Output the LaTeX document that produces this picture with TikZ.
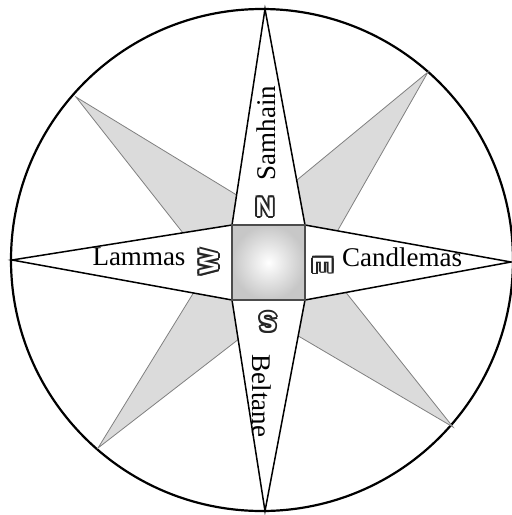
\documentclass[tikz,border=0pt]{standalone}
\usepackage{fontspec}
\setmainfont{Liberation Serif}
\newfontfamily\badgefont{Liberation Sans}
\usetikzlibrary{calc}
\tikzset{
  spike/.style={fill=black!14, draw=black!50, line width=0.8pt, line join=miter},
  cardinal/.style={fill=white, draw=black, line width=1.5pt, line join=miter},
  hub/.style={draw=black!70, line width=1.5pt, inner color=white, outer color=black!22},
  label/.style={inner sep=0pt, font=\fontsize{27}{27}\selectfont},
  badgetext/.style={inner sep=0pt, font=\fontsize{27}{27}\badgefont\bfseries\selectfont}
}
\newcommand\compassbadge[4]{%
  \foreach \dx/\dy [count=\k] in {1.8/0,-1.8/0,0/1.8,0/-1.8,1.3/1.3,-1.3/1.3,1.3/-1.3,-1.3/-1.3}{
    \node[badgetext, text=black!85, rotate=#3] (#1\k) at ($(#2)+(\dx,\dy)$) {#4};}
  \node[badgetext, text=white, rotate=#3] (#1) at (#2) {#4};}
\begin{document}
\begin{tikzpicture}[x=1pt,y=-1pt]
\useasboundingbox (0,0) rectangle (512,515);
\fill[white] (0,0) rectangle (512,515);
% outer circle
\coordinate (O) at (262,260);
\draw[line width=2.2pt] (O) circle[radius=251pt];
% centre and square corners
\coordinate (C) at (268,262);
\coordinate (q1) at (232,225);
\coordinate (q2) at (305,225);
\coordinate (q3) at (305,300);
\coordinate (q4) at (232,300);
% cardinal tips
\coordinate (tN) at (265,9);
\coordinate (tS) at (265,511);
\coordinate (tW) at (12,260);
\coordinate (tE) at (511,262);
% diagonal spikes
\coordinate (dNW) at (76,97);   \coordinate (aNW) at (235,194); \coordinate (bNW) at (183,233);
\coordinate (dNE) at (428,72);  \coordinate (aNE) at (297,180); \coordinate (bNE) at (338,230);
\coordinate (dSE) at (453,427); \coordinate (aSE) at (348,295); \coordinate (bSE) at (300,337);
\coordinate (dSW) at (98,448);  \coordinate (aSW) at (235,342); \coordinate (bSW) at (194,292);
\foreach \s in {NW,NE,SE,SW}{
  \draw[spike] (d\s) -- ($(d\s)!1.1!(a\s)$) -- (C) -- ($(d\s)!1.1!(b\s)$) -- cycle;
}
% cardinal points
\draw[cardinal] (tN) -- (q2) -- (q1) -- cycle;
\draw[cardinal] (tE) -- (q3) -- (q2) -- cycle;
\draw[cardinal] (tS) -- (q4) -- (q3) -- cycle;
\draw[cardinal] (tW) -- (q1) -- (q4) -- cycle;
% central square
\shade[hub] (q1) rectangle (q3);
\draw[draw=black!70, line width=1.5pt] (q1) rectangle (q3);
% labels
\node[label, rotate=90] (samhain) at (266,133) {Samhain};
\node[label, rotate=-90] (beltane) at (262,396) {Beltane};
\node[label] (lammas) at (139,257) {Lammas};
\node[label] (candlemas) at (402,257) {Candlemas};
% letter badges
\compassbadge{bN}{265,207}{0}{N}
\compassbadge{bE}{323,265}{-90}{E}
\compassbadge{bS}{268,322}{180}{S}
\compassbadge{bW}{209,262}{90}{W}
\end{tikzpicture}
\end{document}
